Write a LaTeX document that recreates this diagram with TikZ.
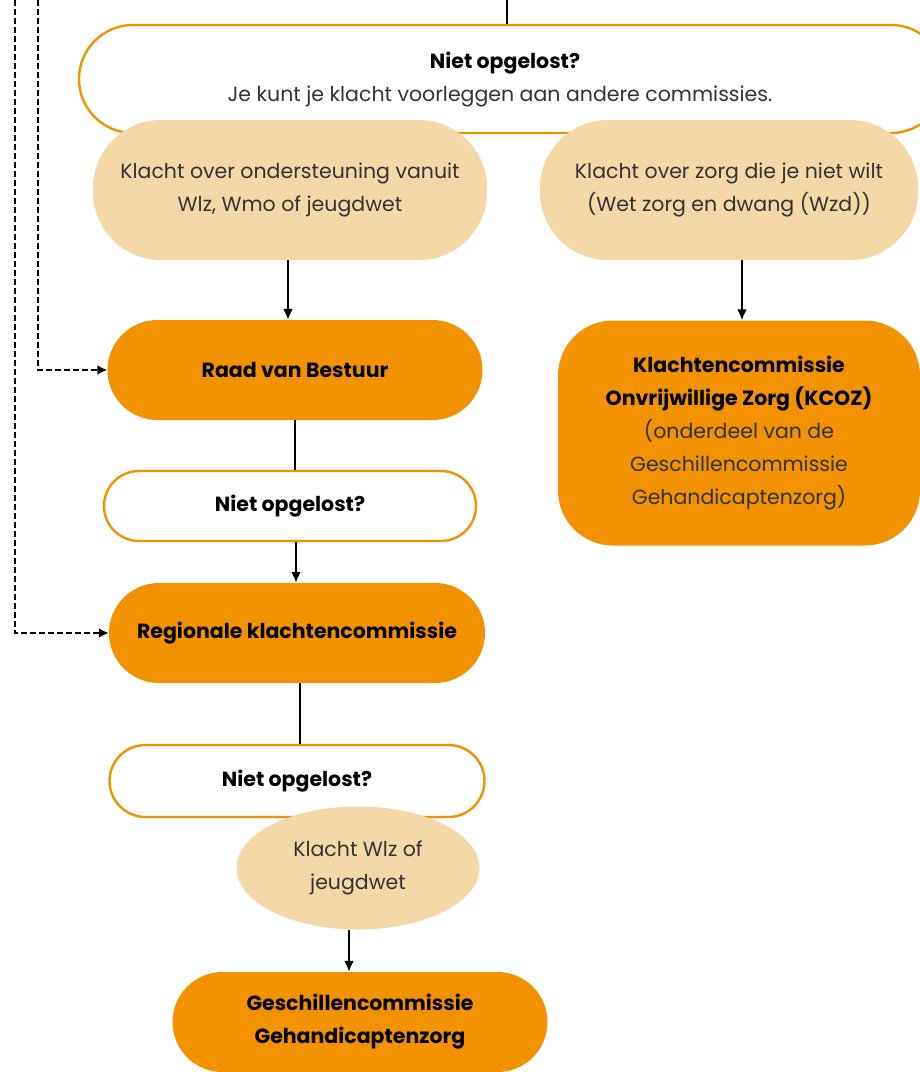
\documentclass[tikz,border=0pt]{standalone}
\usepackage{fontspec}
\setmainfont{Poppins}
\usetikzlibrary{shapes.geometric,arrows.meta}
\definecolor{orng}{HTML}{F29200}
\definecolor{tanc}{HTML}{F5D8A8}
\definecolor{txt}{HTML}{333333}
\newcommand{\fsz}{\fontsize{20.5}{33}\selectfont}
\begin{document}
\begin{tikzpicture}[x=1pt,y=-1pt,
  pill/.style={rectangle, rounded corners=#1, inner sep=0pt, align=center, font=\fsz},
  orangebox/.style={fill=orng, text=black},
  whitebox/.style={fill=white, draw=orng, line width=2.4pt, text=black},
  tanbox/.style={fill=tanc, text=txt},
  conn/.style={line width=2pt, draw=black},
  arr/.style={conn, -{Latex[length=11pt,width=10pt]}},
  dsh/.style={line width=2.2pt, dash pattern=on 6pt off 3pt, -{Latex[length=10pt,width=10pt]}}]
\useasboundingbox (0,0) rectangle (920,1072);
\clip (0,0) rectangle (920,1072);

% top box
\node[pill=54, whitebox, minimum width=866, minimum height=108] (nob) at (512,79) {};
\node[font=\fsz\bfseries] (nobt) at (505,63) {Niet opgelost?};
\node[font=\fsz, text=txt] (nobs) at (500,96) {Je kunt je klacht voorleggen aan andere commissies.};

\coordinate (top) at (507,0);
\draw[conn] (top) -- (top |- nob.north);

\coordinate (d1) at (15,0);
\coordinate (d2) at (38,0);

% tan boxes
\node[pill=68, tanbox, minimum width=394, minimum height=140] (k1) at (290,190)
  {Klacht over ondersteuning vanuit\\Wlz, Wmo of jeugdwet};
\node[pill=68, tanbox, minimum width=378, minimum height=140] (k2) at (729,190)
  {Klacht over zorg die je niet wilt\\(Wet zorg en dwang (Wzd))};

% orange boxes
\node[pill=50, orangebox, minimum width=375, minimum height=100, font=\fsz\bfseries] (raad) at (295,370) {Raad van Bestuur};
\node[pill=55, orangebox, minimum width=362, minimum height=225] (kcoz) at (739,433)
  {\textbf{Klachtencommissie}\\\textbf{Onvrijwillige Zorg (KCOZ)}\\\textcolor{txt}{(onderdeel van de}\\\textcolor{txt}{Geschillencommissie}\\\textcolor{txt}{Gehandicaptenzorg)}};

\node[pill=35, whitebox, minimum width=372, minimum height=70, font=\fsz\bfseries] (nob2) at (290,506) {Niet opgelost?};
\node[pill=50, orangebox, minimum width=376, minimum height=100, font=\fsz\bfseries] (regio) at (297,633) {Regionale klachtencommissie};
\node[pill=36, whitebox, minimum width=375, minimum height=72, font=\fsz\bfseries] (nob3) at (297,781) {Niet opgelost?};
\node[ellipse, tanbox, inner sep=0pt, minimum width=243, minimum height=123, align=center,
  font=\fsz] (k3) at (358,868) {Klacht Wlz of\\jeugdwet};
\node[pill=50, orangebox, minimum width=375, minimum height=100, font=\fsz\bfseries] (gesch) at (360,1022) {Geschillencommissie\\Gehandicaptenzorg};

% connectors
\draw[arr] ([xshift=-2pt]k1.south) -- ([xshift=-2pt]k1.south |- raad.north);
\draw[arr] ([xshift=13pt]k2.south) -- ([xshift=13pt]k2.south |- kcoz.north);
\draw[conn] (raad.south) -- (raad.south |- nob2.north);
\draw[arr] ([xshift=6pt]nob2.south) -- ([xshift=6pt]nob2.south |- regio.north);
\draw[conn] ([xshift=3pt]regio.south) -- ([xshift=3pt]regio.south |- nob3.north);
\draw[arr] ([xshift=-9pt]k3.south) -- ([xshift=-9pt]k3.south |- gesch.north);
\draw[dsh] (d1) |- (regio.west);
\draw[dsh] (d2) |- (raad.west);
\end{tikzpicture}
\end{document}
